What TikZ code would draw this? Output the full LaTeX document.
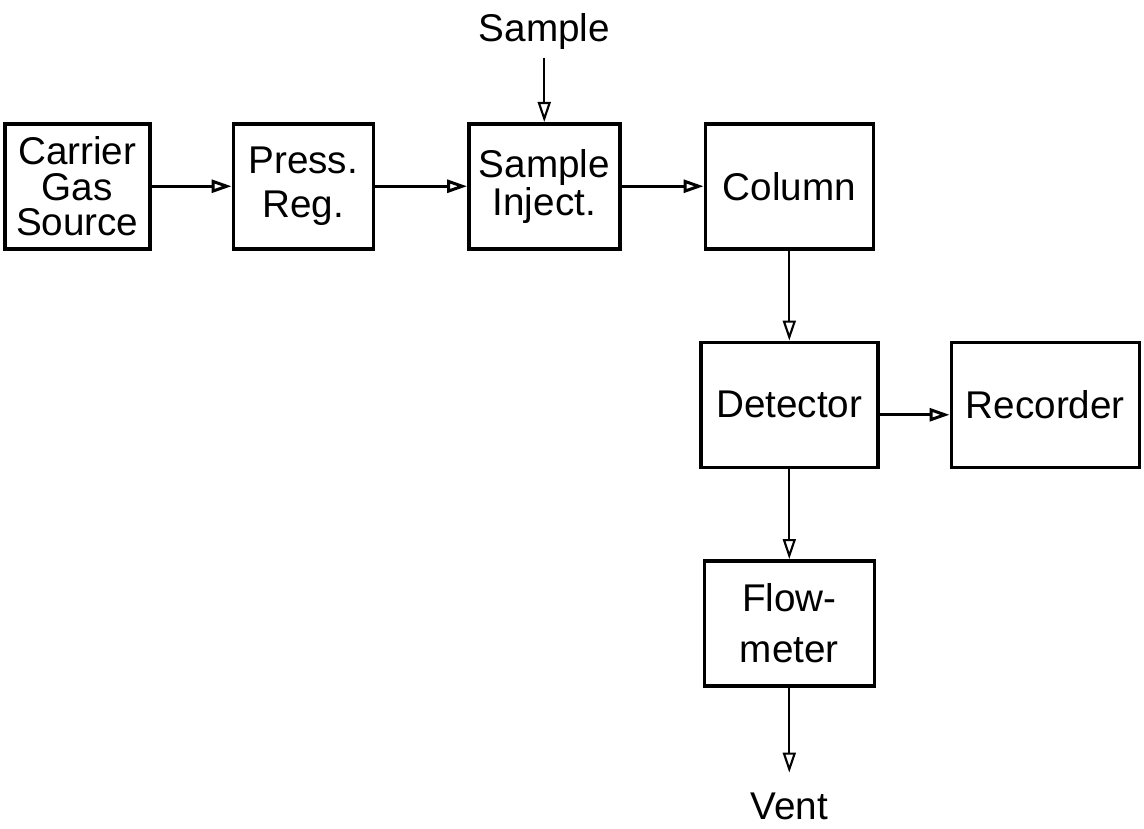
\documentclass[tikz,border=0pt]{standalone}
\usepackage{fontspec}
\setmainfont{Liberation Sans}
\usetikzlibrary{arrows.meta,positioning}
\tikzset{
    unitbox/.style={
        rectangle,
        draw=black,
        line width=2pt,
        minimum height=2.5cm,
        inner sep=0pt,
        align=center,
        font=\fontsize{22}{20}\selectfont
    },
    lbl/.style={
        inner sep=0pt,
        font=\fontsize{22}{20}\selectfont
    },
    pipe/.style={
        -{Triangle[open, length=0.4cm, width=0.26cm]},
        line width=1.7pt
    },
    thinpipe/.style={
        pipe,
        line width=1.2pt
    }
}

\begin{document}
\begin{tikzpicture}[node distance=1.7cm]
\useasboundingbox (0,0) rectangle (22.88,-16.58);

% Carrier gas source
\node[unitbox, minimum width=2.9cm, anchor=north west] (carrier) at (0.06,-2.44) {Carrier\\Gas\\Source};

% Pressure regulator
\node[unitbox, minimum width=2.8cm, right=1.6cm of carrier] (pressreg) {\raisebox{-0.15cm}{Press.}\\[5pt]\raisebox{-0.15cm}{Reg.}};

% Sample injection
\node[unitbox, minimum width=3.02cm, right=1.84cm of pressreg] (inject) {Sample\\Inject.};
\node[lbl, above=1.44cm of inject] (sample) {Sample};

% Column
\node[unitbox, minimum width=3.36cm, right=1.64cm of inject] (column) {Column};

% Detector and recorder
\node[unitbox, minimum width=3.54cm, below=1.8cm of column] (detector) {\raisebox{-0.2cm}{Detector}};
\node[unitbox, minimum width=3.76cm, right=1.4cm of detector] (recorder) {\raisebox{-0.2cm}{Recorder}};

% Flowmeter
\node[unitbox, minimum width=3.4cm, below=1.8cm of detector] (flowmeter) {Flow-\\[9pt]meter};
\node[lbl, below=2.1cm of flowmeter] (vent) {Vent};

\draw[pipe] (carrier.east) -- (pressreg.west);
\draw[pipe] (pressreg.east) -- (inject.west);
\draw[pipe] (inject.east) -- (column.west);
\draw[thinpipe, shorten <=0.16cm] (sample.south) -- (inject.north);
\draw[thinpipe] (column.south) -- (detector.north);
\draw[pipe] ([yshift=-0.2cm]detector.east) -- ([yshift=-0.2cm]detector.east -| recorder.west);
\draw[thinpipe] (detector.south) -- (flowmeter.north);
\draw[thinpipe, shorten >=0.4cm] (flowmeter.south) -- (vent.north);
\end{tikzpicture}
\end{document}
